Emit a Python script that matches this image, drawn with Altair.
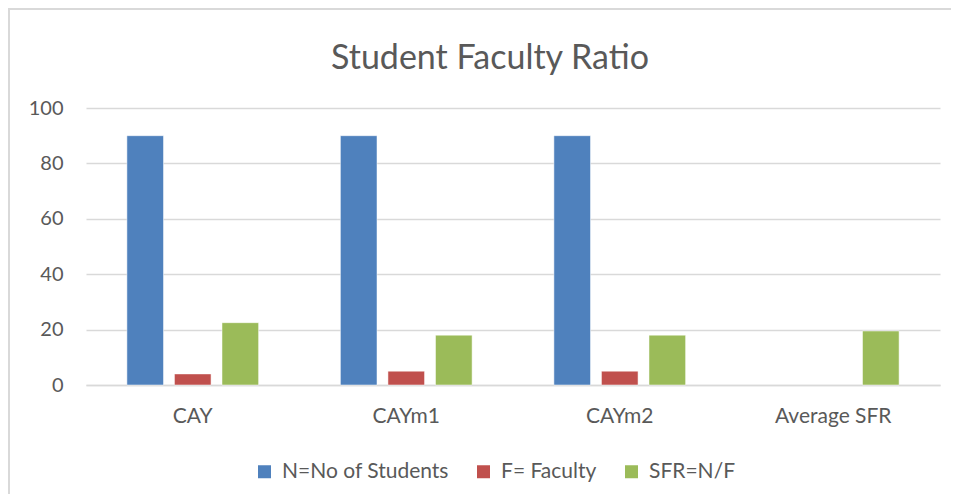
import altair as alt
import pandas as pd

categories = ["CAY", "CAYm1", "CAYm2", "Average SFR"]
series = ["N=No of Students", "F= Faculty", "SFR=N/F"]
students = [90, 90, 90, None]
faculty = [4, 5, 5, None]
sfr = [22.5, 18, 18, 19.5]
colors = ["#4F81BD", "#C0504D", "#9BBB59"]
y_ticks = [0, 20, 40, 60, 80, 100]

rows = []
for i, c in enumerate(categories):
    for s, vals in zip(series, [students, faculty, sfr]):
        if vals[i] is not None:
            rows.append({"category": c, "series": s, "value": vals[i]})
df = pd.DataFrame(rows)

FONT = "Lato"
TXT = "#595959"
GRID = "#D9D9D9"

bars = alt.Chart(df).mark_bar(stroke="white", strokeWidth=0.5).encode(
    x=alt.X("category:N", sort=categories,
            scale=alt.Scale(domain=categories, paddingInner=0, paddingOuter=0),
            axis=alt.Axis(title=None, labelAngle=0, ticks=False, tickSize=0,
                          labelPadding=20, labelFontSize=21, labelColor=TXT,
                          labelFont=FONT, domainColor=GRID, domainWidth=1.5,
                          grid=False)),
    xOffset=alt.XOffset("series:N", sort=series,
                        scale=alt.Scale(domain=series, paddingInner=0.23, paddingOuter=0.86)),
    y=alt.Y("value:Q", scale=alt.Scale(domain=[0, 100], nice=False),
            axis=alt.Axis(title=None, values=y_ticks, ticks=False, tickSize=0,
                          domain=False, labelPadding=23, labelFontSize=20,
                          labelColor=TXT, labelFont=FONT, gridColor=GRID,
                          gridWidth=1.5)),
    color=alt.Color("series:N", sort=series,
                    scale=alt.Scale(domain=series, range=colors),
                    legend=alt.Legend(title=None, orient="none", direction="horizontal",
                                      legendX=168, legendY=353,
                                      symbolType="square", symbolSize=169,
                                      symbolStrokeWidth=0, labelFontSize=21,
                                      labelColor=TXT, labelFont=FONT, labelLimit=0,
                                      labelOffset=7, columnPadding=24)),
)

frame = alt.Chart(pd.DataFrame({"a": [0]})).mark_rect(
    fill=None, stroke="#D9D9D9", strokeWidth=2
).encode(
    x=alt.value(-77), x2=alt.value(900), y=alt.value(-99), y2=alt.value(420)
)

chart = alt.layer(frame, bars).properties(
    width=854, height=277,
    title=alt.TitleParams("Student Faculty Ratio", fontSize=34, font=FONT,
                          color=TXT, fontWeight="normal", dx=-23, offset=-95,
                          baseline="alphabetic"),
    autosize=alt.AutoSizeParams(type="none"),
    padding={"left": 78, "top": 100, "right": 11, "bottom": 109},
).configure_view(stroke=None)

chart.save("out.html", embed_options={"renderer": "svg", "actions": False})
